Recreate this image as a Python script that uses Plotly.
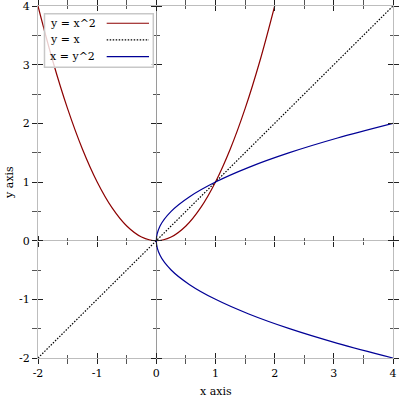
import plotly.graph_objects as go

# ---- data ----
par_x = [-2, -1.75, -1.5, -1.25, -1, -0.75, -0.5, -0.25, 0, 0.25, 0.5, 0.75, 1, 1.25, 1.5, 1.75, 2]
par_y = [4, 3.0625, 2.25, 1.5625, 1, 0.5625, 0.25, 0.0625, 0, 0.0625, 0.25, 0.5625, 1, 1.5625, 2.25, 3.0625, 4]
diag_x = [-2, 4]
diag_y = [-2, 4]
side_y = [-2, -1.75, -1.5, -1.25, -1, -0.75, -0.5, -0.25, 0, 0.25, 0.5, 0.75, 1, 1.25, 1.5, 1.75, 2]
side_x = [4, 3.0625, 2.25, 1.5625, 1, 0.5625, 0.25, 0.0625, 0, 0.0625, 0.25, 0.5625, 1, 1.5625, 2.25, 3.0625, 4]
names = ["y = x^2", "y = x", "x = y^2"]
x_range = [-2, 4]
y_range = [-2, 4]
tick_vals = [-2, -1, 0, 1, 2, 3, 4]
tick_text = ["-2", "-1", "0", "1", "2", "3", "4"]

RED = "rgb(140,0,0)"
BLUE = "rgb(0,0,150)"
BLK = "black"
FONT = "DejaVu Serif"
FS = 11
styles = [dict(color=RED, width=1.2, dash="solid"),
          dict(color=BLK, width=1.2, dash="1.5px,1.5px"),
          dict(color=BLUE, width=1.2, dash="solid")]

fig = go.Figure()

# empty helper traces so every overlay axis pair is a real subplot
for xa, ya in [("x2", "y2"), ("x3", "y"), ("x4", "y"), ("x", "y3"), ("x", "y4")]:
    fig.add_trace(go.Scatter(x=[None], y=[None], xaxis=xa, yaxis=ya, mode="lines",
                             showlegend=False, hoverinfo="skip"))

fig.add_trace(go.Scatter(x=par_x, y=par_y, mode="lines", name=names[0],
                         line=dict(shape="spline", smoothing=1, **styles[0])))
fig.add_trace(go.Scatter(x=diag_x, y=diag_y, mode="lines", name=names[1], line=styles[1]))
fig.add_trace(go.Scatter(x=side_x, y=side_y, mode="lines", name=names[2],
                         line=dict(shape="spline", smoothing=1, **styles[2])))

FRAME = "#bdbdbd"
TICKC = "#222222"
MINC = "#555555"


def ax_common(rng, ticks, showlabels, **kw):
    d = dict(range=rng, fixedrange=True, automargin=False, tickmode="array",
             tickvals=tick_vals, ticktext=tick_text,
             ticks=ticks, ticklen=5, tickwidth=1, tickcolor=TICKC,
             minor=dict(dtick=0.5, tick0=0, ticks=ticks, ticklen=3, tickwidth=1, tickcolor=MINC),
             showgrid=False, zeroline=False, showticklabels=showlabels,
             ticklabeloverflow="allow",
             tickfont=dict(family=FONT, size=FS, color="black"))
    d.update(kw)
    return d


layout = dict(
    width=400, height=400,
    margin=dict(l=38, r=7, t=6, b=42, autoexpand=False),
    paper_bgcolor="white", plot_bgcolor="white",
    showlegend=False, hovermode=False,
    xaxis=ax_common(x_range, "outside", True, showline=True, linecolor=FRAME, linewidth=1,
                    mirror="allticks", zeroline=True, zerolinecolor="#9a9a9a", zerolinewidth=1),
    xaxis2=ax_common(x_range, "inside", False, overlaying="x", anchor="y2", showline=False,
                     mirror="allticks"),
    xaxis3=ax_common(x_range, "outside", False, overlaying="x", anchor="free", position=1/3,
                     side="bottom", showline=False),
    xaxis4=ax_common(x_range, "outside", False, overlaying="x", anchor="free", position=1/3,
                     side="top", showline=False),
    yaxis=ax_common(y_range, "outside", True, showline=True, linecolor=FRAME, linewidth=1,
                    mirror="allticks", zeroline=True, zerolinecolor="#bdbdbd", zerolinewidth=1),
    yaxis2=ax_common(y_range, "inside", False, overlaying="y", anchor="x2", showline=False,
                     mirror="allticks"),
    yaxis3=ax_common(y_range, "outside", False, overlaying="y", anchor="free", position=1/3,
                     side="left", showline=False),
    yaxis4=ax_common(y_range, "outside", False, overlaying="y", anchor="free", position=1/3,
                     side="right", showline=False),
)
fig.update_layout(**layout)

# axis titles
fig.add_annotation(text="x axis", xref="paper", yref="paper", x=0.501, y=-0.095,
                   xanchor="center", yanchor="middle", showarrow=False,
                   font=dict(family=FONT, size=FS, color="black"))
fig.add_annotation(text="y axis", xref="paper", yref="paper", x=-0.082, y=0.5,
                   xanchor="center", yanchor="middle", showarrow=False, textangle=-90,
                   font=dict(family=FONT, size=FS, color="black"))

# legend (text left, sample line right)
fig.add_shape(type="rect", xref="paper", yref="paper", x0=0.0183, x1=0.3248, y0=0.826, y1=0.978,
              line=dict(color="#c8c8c8", width=1.5), fillcolor="rgba(255,255,255,0.8)", layer="above")
leg_y = [0.951, 0.904, 0.856]
for name, st, yy in zip(names, styles, leg_y):
    fig.add_annotation(text=name, xref="paper", yref="paper", x=0.029, y=yy,
                       xanchor="left", yanchor="middle", showarrow=False,
                       font=dict(family=FONT, size=FS, color="black"))
    fig.add_shape(type="line", xref="paper", yref="paper", x0=0.1935, x1=0.3127, y0=yy, y1=yy,
                  line=st, layer="above")

fig.write_html("out.html")
